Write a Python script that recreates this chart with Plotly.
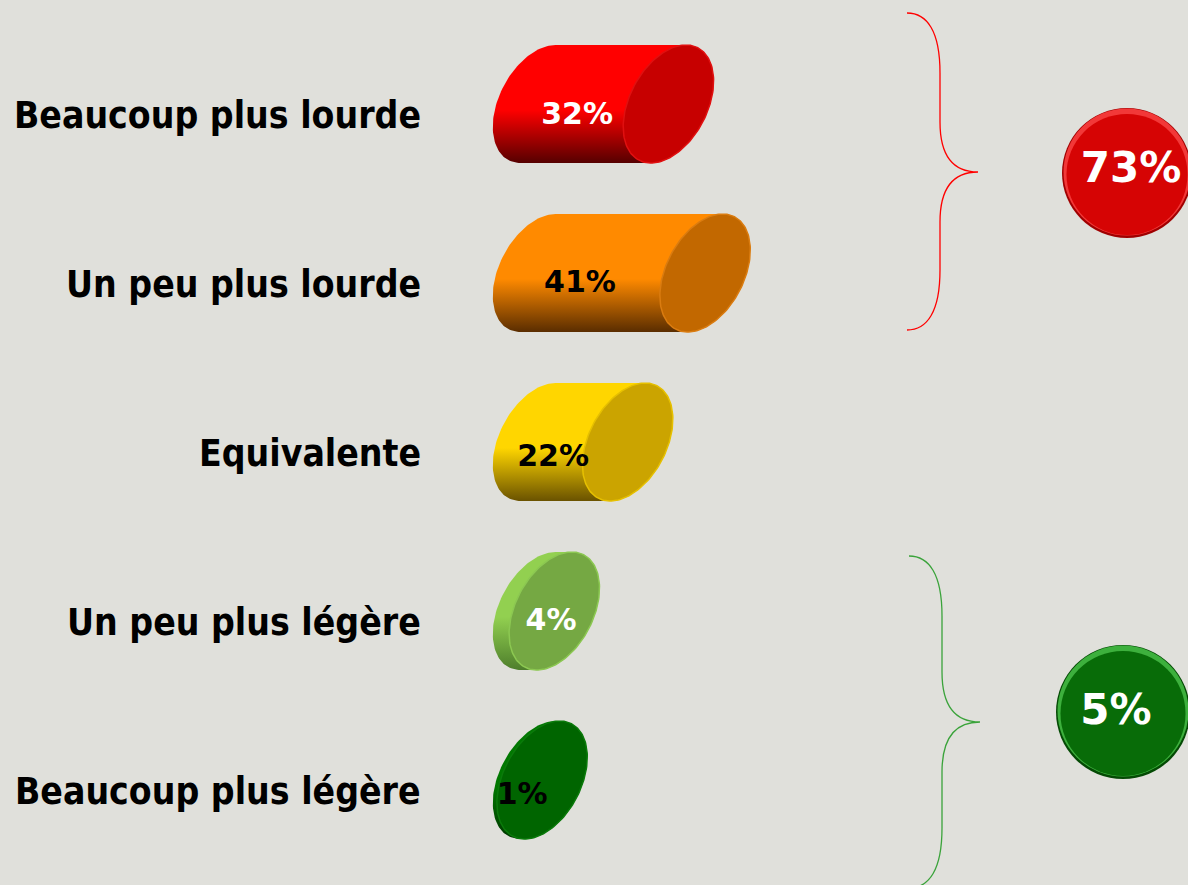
import numpy as np
import plotly.graph_objects as go

# ---------------- data ----------------
categories = ["Beaucoup plus lourde", "Un peu plus lourde", "Equivalente",
              "Un peu plus légère", "Beaucoup plus légère"]
values = [32, 41, 22, 4, 1]
heavier_idx = [0, 1]
lighter_idx = [3, 4]

# ---------------- style ----------------
W, H = 1188, 885
PX = 4.075          # pixels per percentage point
X0_PX = 538         # pixel x of 0 %
ROW0_PX = 104       # pixel y of first row
ROW_PX = 169        # pixels between rows
BG = "#E0E0DB"

A_PX, S_PX, B_PX = 41.7, 17.5, 59.0   # ellipse half width, shear, half height (px)

body_bright = ["#FF0000", "#FF8A00", "#FFD600", "#92D050", "#007800"]
body_dark = ["#560000", "#5A2D00", "#6A5200", "#4E7E2C", "#003800"]
face_color = ["#C70000", "#C26800", "#CBA400", "#75A843", "#006500"]
face_rim = ["#E01010", "#DA7C10", "#E6C000", "#8CC852", "#0A7A0A"]
label_color = ["white", "black", "black", "white", "black"]
label_dx = [9.6, 10.3, 3.7, 3.2, -3.9]      # label offset in % units
label_dy_px = [12, 11, 16, 11, 16]
cat_dy_px = 11
LABEL_FONT = "DejaVu Sans"
CAT_FONT = "DejaVu Sans Condensed, Open Sans, DejaVu Sans"


def fx(px):
    return (px - X0_PX) / PX


def fy(py):
    return (py - ROW0_PX) / ROW_PX


A = A_PX / PX
S = S_PX / PX
B = B_PX / ROW_PX


def ell(cx, cy, t):
    return cx + A * np.cos(t) + S * np.sin(t), cy - B * np.sin(t)


fig = go.Figure()

for i, v in enumerate(values):
    cy = i
    # body: back ellipse left half + front ellipse right half
    t_back = np.linspace(np.pi / 2, 3 * np.pi / 2, 80)
    t_front = np.linspace(3 * np.pi / 2, 5 * np.pi / 2, 80)
    bx, by = ell(0, cy, t_back)
    ffx, ffy = ell(v, cy, t_front)
    xs = np.concatenate([bx, ffx, bx[:1]])
    ys = np.concatenate([by, ffy, by[:1]])
    fig.add_trace(go.Scatter(
        x=xs, y=ys, mode="lines", fill="toself",
        line=dict(width=0, color=body_bright[i]),
        fillgradient=dict(type="vertical", start=cy + B, stop=cy - B,
                          colorscale=[[0, body_dark[i]], [0.45, body_bright[i]],
                                      [1, body_bright[i]]]),
        hoverinfo="skip", showlegend=False))
    # front face
    t = np.linspace(0, 2 * np.pi, 160)
    ex, ey = ell(v, cy, t)
    fig.add_trace(go.Scatter(
        x=ex, y=ey, mode="lines", fill="toself",
        fillcolor=face_color[i], line=dict(width=1.5, color=face_rim[i]),
        hoverinfo="skip", showlegend=False))

# value labels
fig.add_trace(go.Scatter(
    x=label_dx,
    y=[i + label_dy_px[i] / ROW_PX for i in range(len(values))],
    mode="text", text=[f"{v}%" for v in values],
    textfont=dict(family=LABEL_FONT, size=30, color=label_color, weight="bold"),
    textposition="middle center", hoverinfo="skip", showlegend=False))

# category labels
for i, c in enumerate(categories):
    fig.add_annotation(x=423 / W, xref="paper", y=i + cat_dy_px / ROW_PX, yref="y",
                       text=c, showarrow=False, xanchor="right", yanchor="middle",
                       font=dict(family=CAT_FONT, size=37, color="black", weight="bold"))


# braces
def brace_path(L, M, T, Y0, Yc, Y1):
    pts = [
        ("M", [(L, Y0)]),
        ("C", [(L + 20, Y0), (M, Y0 + 18), (M, Y0 + 60)]),
        ("L", [(M, Yc - 50)]),
        ("C", [(M, Yc - 15), (M + 14, Yc), (T, Yc)]),
        ("C", [(M + 14, Yc), (M, Yc + 15), (M, Yc + 50)]),
        ("L", [(M, Y1 - 60)]),
        ("C", [(M, Y1 - 18), (L + 20, Y1), (L, Y1)]),
    ]
    s = ""
    for cmd, p in pts:
        s += cmd + " " + " ".join(f"{fx(a):.4f},{fy(b):.4f}" for a, b in p) + " "
    return s


fig.add_shape(type="path", xref="x", yref="y",
              path=brace_path(907, 940, 978, 13, 172, 330),
              line=dict(color="#FF0000", width=1.3))
fig.add_shape(type="path", xref="x", yref="y",
              path=brace_path(909, 942, 980, 556, 722, 888),
              line=dict(color="#3AA33A", width=1.3))

# total badges
totals = [sum(values[i] for i in heavier_idx), sum(values[i] for i in lighter_idx)]
badge_px = [(1127, 173, 130), (1123, 712, 134)]
badge_text_px = [(1131, 171), (1116, 713)]
badge_cols = [("#A00000", "#F23838", "#D60404"), ("#044A04", "#3DB03D", "#086C08")]
for (bxp, byp, d), (tx, ty), (dark, light, main), tot in zip(badge_px, badge_text_px,
                                                              badge_cols, totals):
    fig.add_trace(go.Scatter(x=[fx(bxp)], y=[fy(byp)], mode="markers",
                             marker=dict(size=d, color=dark, line=dict(width=0)),
                             hoverinfo="skip", showlegend=False))
    fig.add_trace(go.Scatter(x=[fx(bxp)], y=[fy(byp - 1)], mode="markers",
                             marker=dict(size=d - 3, color=light, line=dict(width=0)),
                             hoverinfo="skip", showlegend=False))
    fig.add_trace(go.Scatter(x=[fx(bxp)], y=[fy(byp + 1.5)], mode="markers",
                             marker=dict(size=d - 9, color=main, line=dict(width=0)),
                             hoverinfo="skip", showlegend=False))
    fig.add_trace(go.Scatter(x=[fx(tx)], y=[fy(ty)], mode="text",
                             text=[f"{tot}%"], textposition="middle center",
                             textfont=dict(family=LABEL_FONT, size=42, color="white",
                                           weight="bold"),
                             hoverinfo="skip", showlegend=False))

fig.update_layout(
    width=W, height=H, autosize=False,
    margin=dict(l=0, r=0, t=0, b=0),
    paper_bgcolor=BG, plot_bgcolor=BG,
    xaxis=dict(range=[fx(0), fx(W)], visible=False, fixedrange=True),
    yaxis=dict(range=[fy(H), fy(0)], visible=False, fixedrange=True),
    showlegend=False,
)

fig.write_html("out.html", config={"displayModeBar": False},
               post_script="document.body.style.margin='0px';"
                           "document.body.style.overflow='hidden';")
